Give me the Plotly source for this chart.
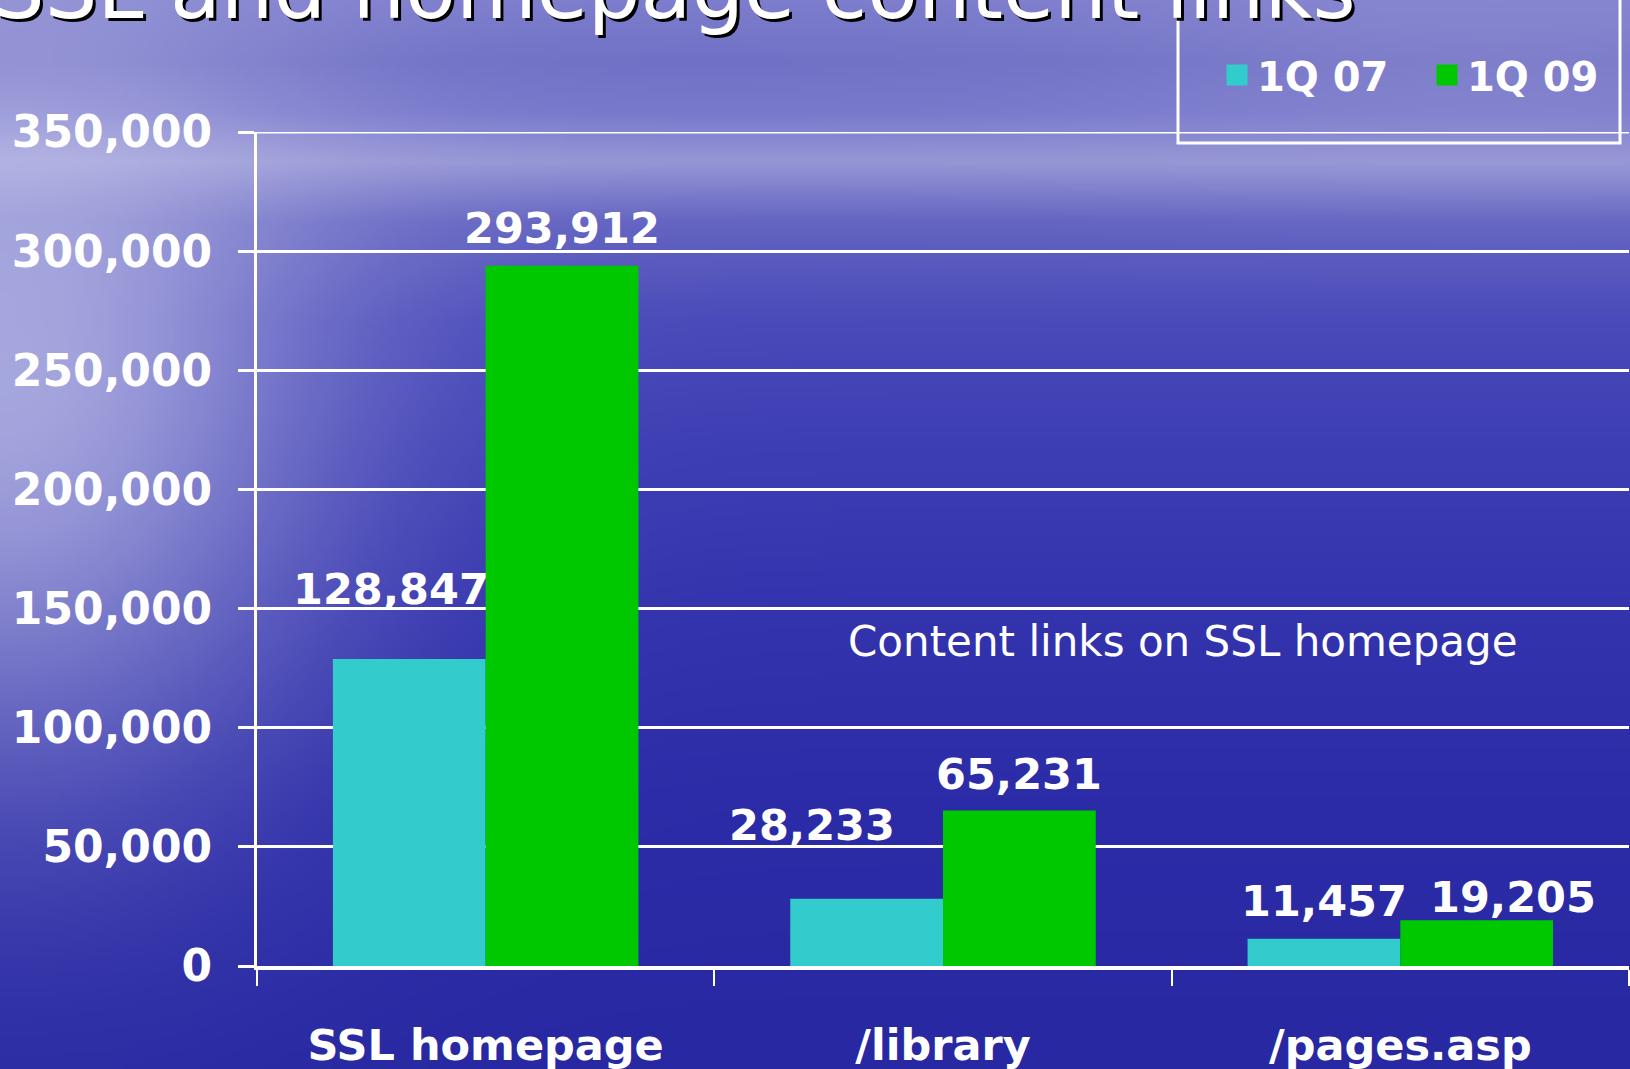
import base64, struct, zlib
import numpy as np
import plotly.graph_objects as go

# ---------------- data ----------------
categories = ["SSL homepage", "/library", "/pages.asp"]
series_names = ["1Q 07", "1Q 09"]
values_1q07 = [128847, 28233, 11457]
values_1q09 = [293912, 65231, 19205]
y_tick_values = [0, 50000, 100000, 150000, 200000, 250000, 300000, 350000]
y_tick_labels = ["0", "50,000", "100,000", "150,000", "200,000", "250,000", "300,000", "350,000"]
title_text = "SSL and homepage content links"
note_text = "Content links on SSL homepage"

# ---------------- style ----------------
W, H = 1630, 1069
L, R, T, B = 257, 1, 132, 103
PW, PH = W - L - R, H - T - B
colors = ["#33CCCC", "#00C800"]
BOLD = "DejaVu Sans"
white = "#FFFFFF"

def px_x(p):
    return (p - L) / PW

def px_y(p):
    return (H - B - p) / PH

# background texture (sky/sea gradient) as a small PNG
def make_bg(w=326, h=214):
    ys = np.linspace(0, H, h)[:, None]
    xs = np.linspace(0, W, w)[None, :]
    stops_y = [0, 60, 110, 160, 220, 320, 450, 600, 800, 1069]
    stops_c = [
        (125, 125, 205), (112, 112, 198), (120, 120, 204), (150, 150, 214),
        (100, 100, 194), (74, 74, 186), (62, 62, 180), (52, 52, 174),
        (44, 44, 168), (40, 40, 162),
    ]
    img = np.zeros((h, w, 3))
    for c in range(3):
        img[:, :, c] = np.interp(ys[:, 0], stops_y, [s[c] for s in stops_c])[:, None]
    # left glow
    g = np.exp(-((xs - 0) ** 2) / (2 * 230 ** 2) - ((ys - 380) ** 2) / (2 * 280 ** 2))
    glow = np.array([205, 205, 238])
    img = img * (1 - 0.72 * g[..., None]) + glow * (0.72 * g[..., None])
    # upper-right haze
    g2 = np.exp(-((xs - 1500) ** 2) / (2 * 300 ** 2) - ((ys - 60) ** 2) / (2 * 90 ** 2))
    img = img * (1 - 0.25 * g2[..., None]) + np.array([170, 170, 220]) * (0.25 * g2[..., None])
    img = np.clip(img, 0, 255).astype(np.uint8)
    raw = b"".join(b"\x00" + img[r].tobytes() for r in range(h))
    def chunk(tag, data):
        c = struct.pack(">I", len(data)) + tag + data
        return c + struct.pack(">I", zlib.crc32(tag + data) & 0xFFFFFFFF)
    png = b"\x89PNG\r\n\x1a\n" + chunk(b"IHDR", struct.pack(">IIBBBBB", w, h, 8, 2, 0, 0, 0)) \
        + chunk(b"IDAT", zlib.compress(raw, 9)) + chunk(b"IEND", b"")
    return "data:image/png;base64," + base64.b64encode(png).decode()

fig = go.Figure()
all_values = [values_1q07, values_1q09]
for name, vals, col in zip(series_names, all_values, colors):
    fig.add_trace(go.Bar(x=categories, y=vals, name=name, marker=dict(color=col, line=dict(width=0)),
                         showlegend=False, hoverinfo="x+y"))
    fig.add_trace(go.Scatter(x=[None], y=[None], mode="markers", name=name,
                             marker=dict(symbol="square", size=25, color=col,
                                         line=dict(color=col, width=5))))

# value labels (manual offsets as in the original slide)
bar_px = PW / 3 * (1 - 0.332) / 2
label_dx = [[-18, -55, 0], [0, 0, 36]]
label_gap = [[54, 58, 22], [22, 21, 7]]
annotations = []
for i, vals in enumerate(all_values):
    for j, v in enumerate(vals):
        annotations.append(dict(
            x=categories[j], y=v, xref="x", yref="y", text=f"{v:,}", showarrow=False,
            xshift=(-bar_px / 2 if i == 0 else bar_px / 2) + label_dx[i][j],
            yshift=label_gap[i][j] - 11, yanchor="bottom", xanchor="center",
            font=dict(family=BOLD, size=43, color=white, weight="bold")))

# note
annotations.append(dict(x=px_x(1183), y=px_y(641), xref="paper", yref="paper", text=note_text,
                        showarrow=False, xanchor="center", yanchor="middle",
                        font=dict(family="DejaVu Sans", size=42, color=white)))
# cut-off slide title with shadow
for dx, col in [(3, "#000000"), (0, white)]:
    annotations.append(dict(x=px_x(-10 + dx), y=px_y(40 + dx), xref="paper", yref="paper", text=title_text,
                            showarrow=False, xanchor="left", yanchor="bottom",
                            font=dict(family="DejaVu Sans", size=83, color=col)))

shapes = [
    # legend frame (extends past the top of the slide)
    dict(type="rect", xref="paper", yref="paper", x0=px_x(1178), x1=px_x(1620),
         y0=px_y(143), y1=px_y(-20), line=dict(color=white, width=3), layer="above"),
    # top gridline at the last tick value
    dict(type="line", xref="paper", yref="y", x0=-16 / PW, x1=1, y0=y_tick_values[-1], y1=y_tick_values[-1],
         line=dict(color=white, width=3), layer="below"),
]

fig.update_layout(
    width=W, height=H,
    margin=dict(l=L, r=R, t=T, b=B, autoexpand=False),
    paper_bgcolor="#3a3ab0", plot_bgcolor="rgba(0,0,0,0)",
    barmode="group", bargap=0.332, bargroupgap=0,
    images=[dict(source=make_bg(), xref="paper", yref="paper", x=px_x(0), y=px_y(0),
                 sizex=W / PW, sizey=H / PH, sizing="stretch", layer="below",
                 xanchor="left", yanchor="top")],
    legend=dict(orientation="h", x=px_x(1217), y=px_y(75), xanchor="left", yanchor="middle",
                bgcolor="rgba(0,0,0,0)", borderwidth=0, entrywidth=165, entrywidthmode="pixels",
                font=dict(family=BOLD, size=40, color=white, weight="bold"),
                itemsizing="trace"),
    shapes=shapes,
    annotations=annotations,
    showlegend=True,
)
fig.update_xaxes(
    showline=True, linecolor=white, linewidth=4, ticks="outside", tickson="boundaries",
    ticklen=16, tickwidth=2, tickcolor=white, showgrid=False, automargin=False,
    tickfont=dict(family=BOLD, size=43, color=white, weight="bold"), ticklabelstandoff=38,
)
fig.update_yaxes(
    range=[0, 350000], tickvals=y_tick_values, ticktext=y_tick_labels,
    showline=True, linecolor=white, linewidth=3, ticks="outside", ticklen=16, tickwidth=3,
    tickcolor=white, showgrid=True, gridcolor=white, gridwidth=3, zeroline=False,
    automargin=False, ticklabelstandoff=17,
    tickfont=dict(family=BOLD, size=44, color=white, weight="bold"),
)
fig.write_html("out.html", config={"responsive": False, "displayModeBar": False},
               post_script="document.body.style.margin='0';document.body.style.overflow='hidden';")
